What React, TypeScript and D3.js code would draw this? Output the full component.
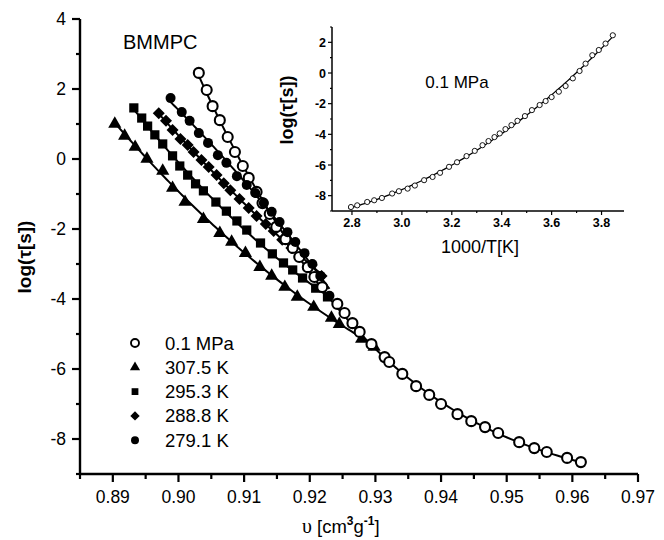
import React from "react";
import * as d3 from "d3";

// ---------- DATA ----------
const X_TICKS = [0.89, 0.9, 0.91, 0.92, 0.93, 0.94, 0.95, 0.96, 0.97];
const X_MINOR = [0.885, 0.895, 0.905, 0.915, 0.925, 0.935, 0.945, 0.955, 0.965];
const Y_TICKS = [-8, -6, -4, -2, 0, 2, 4];
const Y_MINOR = [-9, -7, -5, -3, -1, 1, 3];

const openV = [0.9031, 0.9043, 0.9052, 0.9063, 0.9075, 0.9086, 0.9098, 0.9107, 0.9119, 0.9128, 0.9139, 0.9149, 0.9163, 0.9174, 0.9184, 0.9197, 0.9207, 0.9219, 0.9242, 0.9253, 0.9265, 0.9276, 0.9294, 0.9314, 0.9321, 0.9341, 0.9362, 0.9382, 0.94, 0.9425, 0.9446, 0.9467, 0.9487, 0.9519, 0.9542, 0.9561, 0.9592, 0.9613];
const openL = [2.46, 1.97, 1.51, 1.11, 0.63, 0.2, -0.2, -0.54, -0.94, -1.26, -1.57, -1.94, -2.29, -2.54, -2.8, -3.09, -3.37, -3.66, -4.14, -4.4, -4.69, -4.94, -5.29, -5.66, -5.8, -6.14, -6.49, -6.74, -7.0, -7.29, -7.49, -7.66, -7.83, -8.09, -8.26, -8.37, -8.54, -8.66];

const triV = [0.8903, 0.8918, 0.8934, 0.8952, 0.8976, 0.8991, 0.901, 0.9038, 0.9063, 0.9081, 0.9102, 0.9124, 0.9142, 0.9162, 0.9181, 0.9206, 0.9233, 0.9245, 0.9279, 0.9298];
const triL = [1.03, 0.69, 0.37, 0.03, -0.31, -0.8, -1.2, -1.69, -2.09, -2.34, -2.66, -3.06, -3.31, -3.63, -3.91, -4.2, -4.51, -4.69, -5.11, -5.34];

const sqV = [0.8932, 0.8944, 0.8953, 0.8964, 0.8976, 0.8991, 0.9002, 0.9014, 0.9026, 0.9038, 0.9057, 0.9073, 0.9089, 0.9104, 0.9125, 0.9143, 0.916, 0.9174, 0.9189, 0.9209, 0.9227];
const sqL = [1.46, 1.17, 0.94, 0.69, 0.43, 0.09, -0.2, -0.46, -0.71, -0.91, -1.23, -1.49, -1.77, -2.03, -2.4, -2.71, -2.97, -3.17, -3.4, -3.69, -3.94];

const diaV = [0.897, 0.8981, 0.8991, 0.9003, 0.9014, 0.9023, 0.9035, 0.9046, 0.9058, 0.9069, 0.9079, 0.9093, 0.9107, 0.9119, 0.9133, 0.9145, 0.9158, 0.9172, 0.9188, 0.9203, 0.9218];
const diaL = [1.31, 1.09, 0.83, 0.57, 0.4, 0.2, -0.03, -0.23, -0.46, -0.69, -0.89, -1.14, -1.4, -1.63, -1.86, -2.06, -2.31, -2.54, -2.77, -3.03, -3.34];

const fcV = [0.8988, 0.9005, 0.9017, 0.9031, 0.9045, 0.906, 0.9073, 0.9089, 0.9104, 0.9117, 0.913, 0.9142, 0.9154, 0.9166, 0.9178, 0.9192, 0.9204, 0.9216, 0.923];
const fcL = [1.74, 1.34, 1.09, 0.74, 0.46, 0.11, -0.11, -0.49, -0.74, -0.97, -1.26, -1.51, -1.8, -2.09, -2.37, -2.69, -3.0, -3.34, -3.91];

const LEGEND_LABELS = ["0.1 MPa", "307.5 K", "295.3 K", "288.8 K", "279.1 K"];

// inset
const IX_TICKS = [2.8, 3.0, 3.2, 3.4, 3.6, 3.8];
const IX_MINOR = [2.9, 3.1, 3.3, 3.5, 3.7];
const IY_TICKS = [-8, -6, -4, -2, 0, 2];
const IY_MINOR = [-9, -7, -5, -3, -1, 1, 3];
const insetX = [2.796, 2.821, 2.861, 2.889, 2.92, 2.961, 2.988, 3.023, 3.052, 3.089, 3.123, 3.153, 3.189, 3.221, 3.259, 3.292, 3.323, 3.347, 3.371, 3.392, 3.415, 3.439, 3.463, 3.493, 3.521, 3.552, 3.576, 3.6, 3.629, 3.656, 3.685, 3.712, 3.736, 3.763, 3.789, 3.816, 3.845];
const insetY = [-8.74, -8.63, -8.41, -8.3, -8.15, -7.86, -7.71, -7.54, -7.34, -6.99, -6.78, -6.51, -6.12, -5.82, -5.42, -5.08, -4.71, -4.44, -4.18, -3.94, -3.66, -3.4, -3.12, -2.81, -2.42, -2.09, -1.83, -1.57, -1.22, -0.85, -0.35, 0.13, 0.61, 1.16, 1.5, 1.92, 2.46];

// ---------- helpers ----------
function polyFit(xs: number[], ys: number[], deg: number) {
  const mx = d3.mean(xs)!;
  const sx = (d3.max(xs)! - d3.min(xs)!) / 2;
  const us = xs.map((v) => (v - mx) / sx);
  const n = deg + 1;
  const A: number[][] = Array.from({ length: n }, () => new Array(n + 1).fill(0));
  us.forEach((u, k) => {
    for (let i = 0; i < n; i++) {
      for (let j = 0; j < n; j++) A[i][j] += Math.pow(u, i + j);
      A[i][n] += ys[k] * Math.pow(u, i);
    }
  });
  for (let c = 0; c < n; c++) {
    let p = c;
    for (let r = c + 1; r < n; r++) if (Math.abs(A[r][c]) > Math.abs(A[p][c])) p = r;
    [A[c], A[p]] = [A[p], A[c]];
    for (let r = 0; r < n; r++) {
      if (r === c) continue;
      const f = A[r][c] / A[c][c];
      for (let k = c; k <= n; k++) A[r][k] -= f * A[c][k];
    }
  }
  const coef = A.map((row, i) => row[n] / row[i]);
  return (v: number) => {
    const u = (v - mx) / sx;
    return coef.reduce((s, c, i) => s + c * Math.pow(u, i), 0);
  };
}

function fitCurve(xs: number[], ys: number[], deg: number, x0: number, x1: number) {
  const f = polyFit(xs, ys, deg);
  return d3.range(0, 101).map((i) => {
    const v = x0 + ((x1 - x0) * i) / 100;
    return [v, f(v)] as [number, number];
  });
}

const FONT = "'Liberation Sans', Arial, Helvetica, sans-serif";

export default function App() {
  const x = d3.scaleLinear().domain([0.885, 0.97]).range([80, 638]);
  const y = d3.scaleLinear().domain([-9, 4]).range([474, 19]);
  const ix = d3.scaleLinear().domain([2.72, 3.89]).range([332, 624]);
  const iy = d3.scaleLinear().domain([-9, 3]).range([211, 27]);

  const line = d3.line<[number, number]>().x((d) => x(d[0])).y((d) => y(d[1]));
  const iline = d3.line<[number, number]>().x((d) => ix(d[0])).y((d) => iy(d[1]));

  const openFit = fitCurve(openV, openL, 3, openV[0], openV[openV.length - 1] + 0.0005);
  const triFit = fitCurve(triV, triL, 2, triV[0], triV[triV.length - 1]);
  const sqFit = fitCurve(sqV, sqL, 2, sqV[0], sqV[sqV.length - 1]);
  const diaFit = fitCurve(diaV, diaL, 2, diaV[0], diaV[diaV.length - 1]);
  const fcFit = fitCurve(fcV, fcL, 2, fcV[0], fcV[fcV.length - 1]);
  const insetFit = fitCurve(insetX, insetY, 3, insetX[0] - 0.01, insetX[insetX.length - 1] + 0.01);

  const triSym = d3.symbol().type(d3.symbolTriangle).size(75)()!;
  const sqSym = d3.symbol().type(d3.symbolSquare).size(85)()!;
  const diaSym = d3.symbol().type(d3.symbolSquare).size(72)()!;
  const triSymL = d3.symbol().type(d3.symbolTriangle).size(45)()!;
  const sqSymL = d3.symbol().type(d3.symbolSquare).size(46)()!;
  const diaSymL = d3.symbol().type(d3.symbolSquare).size(44)()!;

  const legendY = d3.range(5).map((i) => 343 + i * 24.3);

  return (
    <svg width={664} height={540} style={{ position: "absolute", left: 0, top: 0, background: "#fff" }} fontFamily={FONT}>
      {/* main axes */}
      <line x1={80} x2={80} y1={y(4)} y2={y(-9) + 1} stroke="#000" strokeWidth={2.4} />
      <line x1={79} x2={x(0.97)} y1={y(-9)} y2={y(-9)} stroke="#000" strokeWidth={2.4} />
      {Y_TICKS.map((t) => (
        <g key={"yt" + t}>
          <line x1={72} x2={80} y1={y(t)} y2={y(t)} stroke="#000" strokeWidth={2.2} />
          <text x={66} y={y(t) + 6} textAnchor="end" fontSize={17.5}>{t}</text>
        </g>
      ))}
      {Y_MINOR.map((t) => (
        <line key={"ym" + t} x1={76} x2={80} y1={y(t)} y2={y(t)} stroke="#000" strokeWidth={2.2} />
      ))}
      {X_TICKS.map((t) => (
        <g key={"xt" + t}>
          <line x1={x(t)} x2={x(t)} y1={y(-9)} y2={y(-9) + 8} stroke="#000" strokeWidth={2.2} />
          <text x={x(t)} y={503} textAnchor="middle" fontSize={17.5}>{t.toFixed(2)}</text>
        </g>
      ))}
      {X_MINOR.map((t) => (
        <line key={"xm" + t} x1={x(t)} x2={x(t)} y1={y(-9)} y2={y(-9) + 5} stroke="#000" strokeWidth={2.2} />
      ))}

      <text transform="translate(31,257) rotate(-90)" textAnchor="middle" fontSize={19} fontWeight="bold">
        log(τ[s])
      </text>
      <text x={302} y={533} fontSize={18.5}>
        <tspan fontFamily="'Liberation Serif', 'Times New Roman', serif" fontSize={20}>υ</tspan>
        <tspan> [cm</tspan>
        <tspan fontSize={12} dy={-8} fontWeight="bold">3</tspan>
        <tspan dy={8}>g</tspan>
        <tspan fontSize={12} dy={-8} fontWeight="bold">-1</tspan>
        <tspan dy={8}>]</tspan>
      </text>
      <text x={123} y={49} fontSize={20}>BMMPC</text>

      {/* fit lines */}
      {[triFit, sqFit, diaFit, fcFit, openFit].map((f, i) => (
        <path key={"fit" + i} d={line(f)!} fill="none" stroke="#000" strokeWidth={2} />
      ))}

      {/* markers */}
      {triV.map((v, i) => (
        <path key={"tr" + i} d={triSym} transform={`translate(${x(v)},${y(triL[i]) + 1})`} fill="#000" />
      ))}
      {sqV.map((v, i) => (
        <path key={"sq" + i} d={sqSym} transform={`translate(${x(v)},${y(sqL[i])})`} fill="#000" />
      ))}
      {diaV.map((v, i) => (
        <path key={"di" + i} d={diaSym} transform={`translate(${x(v)},${y(diaL[i])}) rotate(45)`} fill="#000" />
      ))}
      {openV.map((v, i) => (
        <circle key={"oc" + i} cx={x(v)} cy={y(openL[i])} r={5} fill="#fff" stroke="#000" strokeWidth={2.1} />
      ))}
      {fcV.map((v, i) => (
        <circle key={"fc" + i} cx={x(v)} cy={y(fcL[i])} r={5} fill="#000" />
      ))}

      {/* legend */}
      <g>
        <circle cx={135} cy={legendY[0]} r={4} fill="#fff" stroke="#000" strokeWidth={1.9} />
        <path d={triSymL} transform={`translate(135,${legendY[1]})`} fill="#000" />
        <path d={sqSymL} transform={`translate(135,${legendY[2]})`} fill="#000" />
        <path d={diaSymL} transform={`translate(135,${legendY[3]}) rotate(45)`} fill="#000" />
        <circle cx={135} cy={legendY[4]} r={4} fill="#000" />
        {LEGEND_LABELS.map((l, i) => (
          <text key={l} x={165} y={legendY[i] + 6.5} fontSize={18.5}>{l}</text>
        ))}
      </g>

      {/* inset */}
      <g>
        <line x1={332} x2={332} y1={iy(3)} y2={iy(-9)} stroke="#000" strokeWidth={1.5} />
        <line x1={332} x2={624} y1={iy(-9)} y2={iy(-9)} stroke="#000" strokeWidth={1.5} />
        {IY_TICKS.map((t) => (
          <g key={"iyt" + t}>
            <line x1={328} x2={332} y1={iy(t)} y2={iy(t)} stroke="#000" strokeWidth={1.2} />
            <text x={326} y={iy(t) + 4.5} textAnchor="end" fontSize={12.5} fontWeight="bold">{t}</text>
          </g>
        ))}
        {IY_MINOR.map((t) => (
          <line key={"iym" + t} x1={330} x2={332} y1={iy(t)} y2={iy(t)} stroke="#000" strokeWidth={1.2} />
        ))}
        {IX_TICKS.map((t) => (
          <g key={"ixt" + t}>
            <line x1={ix(t)} x2={ix(t)} y1={iy(-9)} y2={iy(-9) + 4} stroke="#000" strokeWidth={1.2} />
            <text x={ix(t)} y={227} textAnchor="middle" fontSize={12.5} fontWeight="bold">{t.toFixed(1)}</text>
          </g>
        ))}
        {IX_MINOR.map((t) => (
          <line key={"ixm" + t} x1={ix(t)} x2={ix(t)} y1={iy(-9)} y2={iy(-9) + 2} stroke="#000" strokeWidth={1.2} />
        ))}
        <text x={480} y={253} textAnchor="middle" fontSize={18}>1000/T[K]</text>
        <text x={457} y={88} textAnchor="middle" fontSize={17}>0.1 MPa</text>
        <text transform="translate(293,110) rotate(-90)" textAnchor="middle" fontSize={18} fontWeight="bold">
          log(τ[s])
        </text>
        <path d={iline(insetFit)!} fill="none" stroke="#000" strokeWidth={1.3} />
        {insetX.map((v, i) => (
          <circle key={"ic" + i} cx={ix(v)} cy={iy(insetY[i])} r={2.6} fill="#fff" stroke="#000" strokeWidth={0.9} />
        ))}
      </g>
    </svg>
  );
}
